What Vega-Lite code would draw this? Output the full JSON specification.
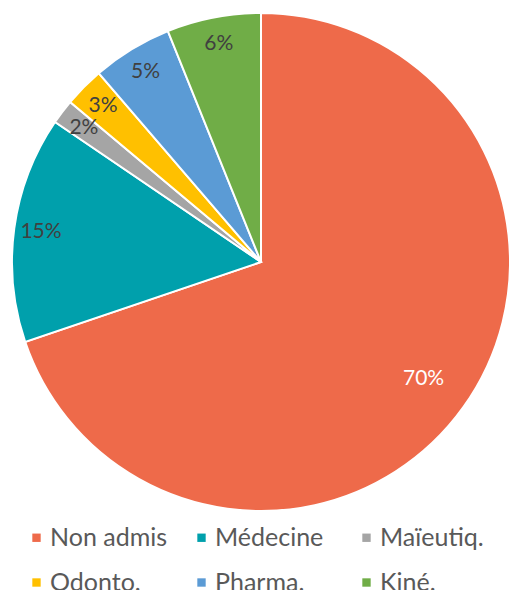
{
  "$schema": "https://vega.github.io/schema/vega-lite/v6.json",
  "width": 522,
  "height": 524,
  "autosize": {"type": "pad"},
  "padding": 0,
  "background": "white",
  "view": {"stroke": null},
  "data": {
    "values": [
      {"cat": "Non admis", "ord": 1, "share": 0.698},
      {"cat": "Médecine", "ord": 2, "share": 0.147},
      {"cat": "Maïeutiq.", "ord": 3, "share": 0.016},
      {"cat": "Odonto.", "ord": 4, "share": 0.026},
      {"cat": "Pharma.", "ord": 5, "share": 0.052},
      {"cat": "Kiné.", "ord": 6, "share": 0.061}
    ]
  },
  "encoding": {
    "theta": {"field": "share", "type": "quantitative", "stack": true},
    "order": {"field": "ord", "type": "quantitative", "sort": "ascending"}
  },
  "layer": [
    {
      "mark": {"type": "arc", "outerRadius": 249, "stroke": "white", "strokeWidth": 2},
      "encoding": {
        "color": {
          "field": "cat",
          "type": "nominal",
          "scale": {
            "domain": ["Non admis", "Médecine", "Maïeutiq.", "Odonto.", "Pharma.", "Kiné."],
            "range": ["#EE6A4A", "#00A0AC", "#A5A5A5", "#FFC000", "#5B9BD5", "#70AD47"]
          },
          "legend": {
            "title": null,
            "orient": "none",
            "legendX": 24,
            "legendY": 525,
            "direction": "horizontal",
            "columns": 3,
            "gridAlign": "all",
            "columnPadding": 21,
            "rowPadding": 19,
            "padding": 0,
            "symbolType": "square",
            "symbolSize": 70,
            "symbolStrokeWidth": 0,
            "labelOffset": 1,
            "labelFont": "Lato",
            "labelFontSize": 25,
            "labelColor": "#595959",
            "labelLimit": 300
          }
        }
      }
    },
    {
      "mark": {"type": "text", "radius": 222, "font": "Lato", "fontSize": 21, "color": "#404040", "align": "center", "baseline": "middle"},
      "encoding": {
        "text": {
          "condition": {"test": "datum.cat === 'Non admis'", "value": ""},
          "field": "share",
          "type": "quantitative",
          "format": ".0%"
        }
      }
    },
    {
      "mark": {"type": "text", "radius": 200, "font": "Lato", "fontSize": 21, "color": "white", "align": "center", "baseline": "middle"},
      "encoding": {
        "text": {
          "condition": {"test": "datum.cat !== 'Non admis'", "value": ""},
          "field": "share",
          "type": "quantitative",
          "format": ".0%"
        }
      }
    }
  ]
}
